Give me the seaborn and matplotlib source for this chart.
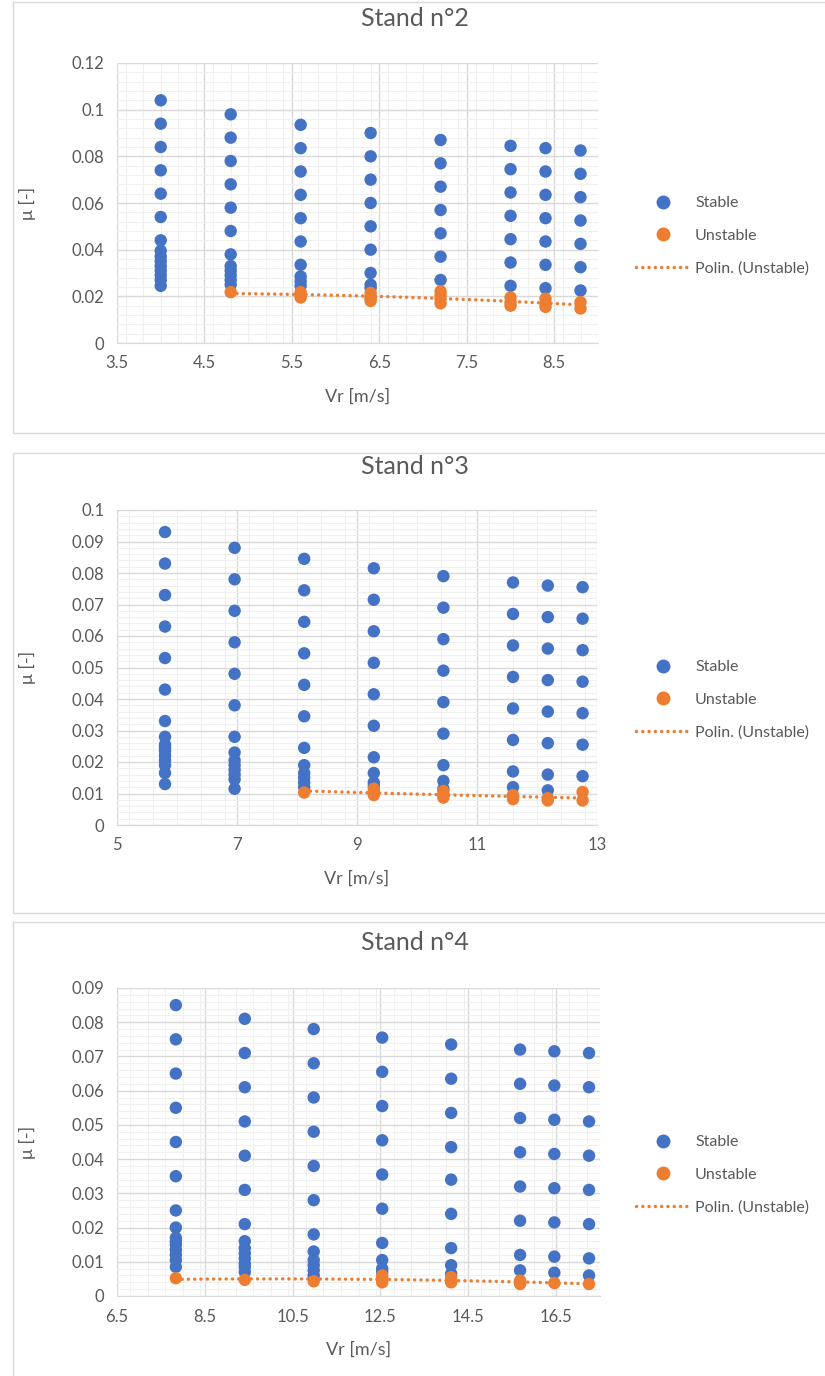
import numpy as np
import pandas as pd
import matplotlib
matplotlib.use("Agg")
import matplotlib.pyplot as plt
from matplotlib.patches import Rectangle
from matplotlib.lines import Line2D
from matplotlib.ticker import MultipleLocator
import seaborn as sns

# Stand n°2
stand2_vr = [4.0, 4.8, 5.6, 6.4, 7.2, 8.0, 8.4, 8.8]
stand2_stable = [
    [0.104, 0.094, 0.084, 0.074, 0.064, 0.054, 0.044, 0.0395, 0.037, 0.035, 0.033, 0.031, 0.029, 0.027, 0.0245],
    [0.098, 0.088, 0.078, 0.068, 0.058, 0.048, 0.038, 0.033, 0.031, 0.029, 0.027, 0.025],
    [0.0935, 0.0835, 0.0735, 0.0635, 0.0535, 0.0435, 0.0335, 0.0285, 0.0265, 0.0245],
    [0.090, 0.080, 0.070, 0.060, 0.050, 0.040, 0.030, 0.025, 0.0235],
    [0.087, 0.077, 0.067, 0.057, 0.047, 0.037, 0.027],
    [0.0845, 0.0745, 0.0645, 0.0545, 0.0445, 0.0345, 0.0245],
    [0.0835, 0.0735, 0.0635, 0.0535, 0.0435, 0.0335, 0.0235],
    [0.0825, 0.0725, 0.0625, 0.0525, 0.0425, 0.0325, 0.0225],
]
stand2_unstable = [
    [],
    [0.0218],
    [0.0218, 0.0205, 0.0195],
    [0.0215, 0.020, 0.019, 0.018],
    [0.0222, 0.0205, 0.019, 0.017],
    [0.0195, 0.0175, 0.016],
    [0.019, 0.017, 0.0155],
    [0.0175, 0.0148],
]

# Stand n°3
stand3_vr = [5.8, 6.96, 8.12, 9.28, 10.44, 11.6, 12.18, 12.76]
stand3_stable = [
    [0.093, 0.083, 0.073, 0.063, 0.053, 0.043, 0.033, 0.028, 0.0255, 0.0245, 0.0235, 0.022, 0.0205, 0.019, 0.0165, 0.013],
    [0.088, 0.078, 0.068, 0.058, 0.048, 0.038, 0.028, 0.023, 0.0205, 0.019, 0.0175, 0.016, 0.0145, 0.0115],
    [0.0845, 0.0745, 0.0645, 0.0545, 0.0445, 0.0345, 0.0245, 0.019, 0.0165, 0.015, 0.0135, 0.012],
    [0.0815, 0.0715, 0.0615, 0.0515, 0.0415, 0.0315, 0.0215, 0.0165, 0.0135, 0.0125],
    [0.079, 0.069, 0.059, 0.049, 0.039, 0.029, 0.019, 0.014, 0.0115],
    [0.077, 0.067, 0.057, 0.047, 0.037, 0.027, 0.017, 0.012],
    [0.076, 0.066, 0.056, 0.046, 0.036, 0.026, 0.016, 0.011],
    [0.0755, 0.0655, 0.0555, 0.0455, 0.0355, 0.0255, 0.0155],
]
stand3_unstable = [
    [],
    [],
    [0.0103],
    [0.0115, 0.0105, 0.0095],
    [0.0108, 0.0095, 0.0087],
    [0.0095, 0.0082],
    [0.0085, 0.0078],
    [0.0105, 0.0078],
]

# Stand n°4
stand4_vr = [7.84, 9.41, 10.98, 12.54, 14.11, 15.68, 16.46, 17.25]
stand4_stable = [
    [0.085, 0.075, 0.065, 0.055, 0.045, 0.035, 0.025, 0.020, 0.017, 0.016, 0.015, 0.0135, 0.012, 0.0105, 0.0085],
    [0.081, 0.071, 0.061, 0.051, 0.041, 0.031, 0.021, 0.016, 0.014, 0.0125, 0.011, 0.0095, 0.0085, 0.007],
    [0.078, 0.068, 0.058, 0.048, 0.038, 0.028, 0.018, 0.013, 0.0105, 0.009, 0.0075, 0.006],
    [0.0755, 0.0655, 0.0555, 0.0455, 0.0355, 0.0255, 0.0155, 0.0105, 0.008, 0.007],
    [0.0735, 0.0635, 0.0535, 0.0435, 0.034, 0.024, 0.014, 0.009, 0.0065],
    [0.072, 0.062, 0.052, 0.042, 0.032, 0.022, 0.012, 0.0075],
    [0.0715, 0.0615, 0.0515, 0.0415, 0.0315, 0.0215, 0.0115, 0.0068],
    [0.071, 0.061, 0.051, 0.041, 0.031, 0.021, 0.011, 0.006],
]
stand4_unstable = [
    [0.0052],
    [0.0047],
    [0.0043],
    [0.006, 0.005, 0.004],
    [0.0055, 0.0045, 0.004],
    [0.0045, 0.0035],
    [0.0038],
    [0.0035],
]

BLUE = "#4472C4"
ORANGE = "#ED7D31"
GREY_TXT = "#595959"
DOTS = (0, (0.01, 1.8))

W, H = 825, 1376

sns.set_style("white")
plt.rcParams["font.family"] = ["Lato", "DejaVu Sans"]


def to_frame(vr, stable, unstable):
    rows = []
    for x, s, u in zip(vr, stable, unstable):
        rows += [(x, v, "Stable") for v in s]
        rows += [(x, v, "Unstable") for v in u]
    return pd.DataFrame(rows, columns=["Vr", "mu", "state"])


panels = [
    dict(title="Stand n°2", vr=stand2_vr, st=stand2_stable, un=stand2_unstable,
         box=(2, 433), ax=(117, 598, 63, 343), xlim=(3.5, 9.0), xmaj=1.0, ylim=(0, 0.12), ymaj=0.02,
         xticks=[3.5, 4.5, 5.5, 6.5, 7.5, 8.5], title_y=18, leg_y=236),
    dict(title="Stand n°3", vr=stand3_vr, st=stand3_stable, un=stand3_unstable,
         box=(453, 913), ax=(117, 597, 510, 825), xlim=(5, 13), xmaj=2.0, ylim=(0, 0.1), ymaj=0.01,
         xticks=[5, 7, 9, 11, 13], title_y=466, leg_y=700),
    dict(title="Stand n°4", vr=stand4_vr, st=stand4_stable, un=stand4_unstable,
         box=(922, 1390), ax=(117, 600, 988, 1296), xlim=(6.5, 17.5), xmaj=2.0, ylim=(0, 0.09), ymaj=0.01,
         xticks=[6.5, 8.5, 10.5, 12.5, 14.5, 16.5], title_y=943, leg_y=1175),
]

fig = plt.figure(figsize=(W / 100, H / 100), dpi=100)

for p in panels:
    # chart border (Excel chart area)
    y0, y1 = p["box"]
    fig.patches.append(Rectangle((13 / W, 1 - y1 / H), 1.0, (y1 - y0) / H, transform=fig.transFigure,
                                 fill=False, edgecolor="#d9d9d9", lw=1.0))

    l, r, t, b = p["ax"]
    ax = fig.add_axes([l / W, 1 - b / H, (r - l) / W, (b - t) / H])
    df = to_frame(p["vr"], p["st"], p["un"])

    ax.xaxis.set_major_locator(MultipleLocator(p["xmaj"]))
    ax.xaxis.set_minor_locator(MultipleLocator(p["xmaj"] / 5))
    ax.yaxis.set_major_locator(MultipleLocator(p["ymaj"]))
    ax.yaxis.set_minor_locator(MultipleLocator(p["ymaj"] / 5))
    ax.grid(which="minor", color="#f0f0f0", lw=0.8)
    ax.grid(which="major", color="#d9d9d9", lw=1.0)
    ax.set_axisbelow(True)

    sns.scatterplot(data=df, x="Vr", y="mu", hue="state", palette={"Stable": BLUE, "Unstable": ORANGE},
                    s=80, edgecolor="none", ax=ax, legend=False, zorder=3)
    uns = df[df["state"] == "Unstable"]
    sns.regplot(data=uns, x="Vr", y="mu", order=2, ci=None, scatter=False, truncate=True, ax=ax,
                line_kws=dict(color=ORANGE, lw=2.5, ls=DOTS, dash_capstyle="round", zorder=4))

    ax.set_xlim(p["xlim"])
    ax.set_ylim(p["ylim"])
    ax.set_xticks(p["xticks"])
    yt = np.round(np.arange(0, p["ylim"][1] + 1e-9, p["ymaj"]), 3)
    ax.set_yticks(yt)
    ax.set_yticklabels([f"{v:g}" for v in yt])
    ax.set_xticklabels([f"{v:g}" for v in p["xticks"]])
    ax.tick_params(which="both", length=0, labelsize=12, labelcolor=GREY_TXT, pad=9)
    for s in ["top", "right", "left"]:
        ax.spines[s].set_visible(False)
    ax.spines["bottom"].set_color("#d9d9d9")
    ax.set_xlabel("Vr [m/s]", fontsize=13, color=GREY_TXT, labelpad=12)
    ax.set_ylabel("μ [-]", fontsize=13, color=GREY_TXT, labelpad=26)

    fig.text(415 / W, 1 - p["title_y"] / H, p["title"], ha="center", va="center", fontsize=18, color=GREY_TXT)

    handles = [
        Line2D([], [], ls="none", marker="o", color=BLUE, markersize=9),
        Line2D([], [], ls="none", marker="o", color=ORANGE, markersize=9),
        Line2D([], [], color=ORANGE, lw=2.5, ls=DOTS, dash_capstyle="round"),
    ]
    ax.legend(handles, ["Stable", "Unstable", "Polin. (Unstable)"], loc="center left",
              bbox_to_anchor=(636 / W, 1 - p["leg_y"] / H), bbox_transform=fig.transFigure,
              frameon=False, fontsize=11.5, handlelength=3.4, handletextpad=0.3, labelspacing=1.15,
              borderpad=0, borderaxespad=0, labelcolor=GREY_TXT)

fig.savefig("out.png", dpi=100)
